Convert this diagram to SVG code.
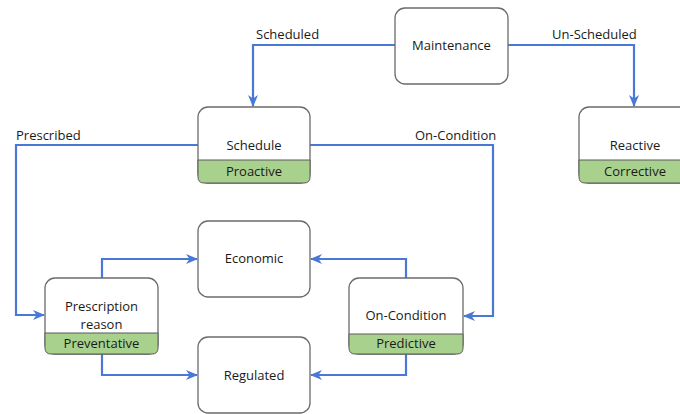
<svg xmlns="http://www.w3.org/2000/svg" width="680" height="414" viewBox="0 0 680 414">
  <defs>
    <style>
      .box { fill: #ffffff; stroke: #6b6b6b; stroke-width: 1.3; }
      .band { fill: #a9d18e; stroke: #5a5a5a; stroke-width: 1; }
      .lbl { font-family: "Open Sans", "Liberation Sans", sans-serif; font-size: 13px; fill: #1a1a1a; text-anchor: middle; }
      .edge { font-family: "Open Sans", "Liberation Sans", sans-serif; font-size: 13px; fill: #1a1a1a; }
      .conn { fill: none; stroke: #4a78d6; stroke-width: 2.2; marker-end: url(#arr); }
    </style>
    <marker id="arr" viewBox="0 0 12 10" refX="11" refY="5" markerWidth="12" markerHeight="10" markerUnits="userSpaceOnUse" orient="auto">
      <path d="M0,0 L12,5 L0,10 L3.5,5 z" fill="#4a78d6"/>
    </marker>
  </defs>

  <!-- connectors -->
  <g id="connectors">
    <path class="conn" d="M395,45 H253 V106"/>
    <path class="conn" d="M508,45 H634 V106"/>
    <path class="conn" d="M198,145 H16 V315 H44"/>
    <path class="conn" d="M310,145 H493 V316 H464"/>
    <path class="conn" d="M102,278 V259 H197"/>
    <path class="conn" d="M102,354 V375 H197"/>
    <path class="conn" d="M406,278 V259 H311"/>
    <path class="conn" d="M406,354 V375 H311"/>
    <text class="edge" x="256" y="39">Scheduled</text>
    <text class="edge" x="552" y="39">Un-Scheduled</text>
    <text class="edge" x="16" y="140">Prescribed</text>
    <text class="edge" x="415" y="140">On-Condition</text>
  </g>

  <!-- nodes -->
  <g id="maintenance">
    <rect class="box" x="395" y="8" width="113" height="76" rx="10"/>
    <text class="lbl" x="451.5" y="50">Maintenance</text>
  </g>

  <g id="schedule" transform="translate(198,107)">
    <rect class="box" x="0" y="0" width="112" height="76" rx="10"/>
    <path class="band" d="M0,53 H112 V70 Q112,76 106,76 H6 Q0,76 0,70 Z"/>
    <text class="lbl" x="56" y="43">Schedule</text>
    <text class="lbl" x="56" y="69">Proactive</text>
  </g>

  <g id="reactive" transform="translate(579,107)">
    <rect class="box" x="0" y="0" width="112" height="76" rx="10"/>
    <path class="band" d="M0,53 H112 V70 Q112,76 106,76 H6 Q0,76 0,70 Z"/>
    <text class="lbl" x="56" y="43">Reactive</text>
    <text class="lbl" x="56" y="69">Corrective</text>
  </g>

  <g id="economic">
    <rect class="box" x="198" y="221" width="112" height="76" rx="10"/>
    <text class="lbl" x="254" y="263">Economic</text>
  </g>

  <g id="regulated">
    <rect class="box" x="198" y="337" width="112" height="76" rx="10"/>
    <text class="lbl" x="254" y="380">Regulated</text>
  </g>

  <g id="prescription-reason" transform="translate(45,278)">
    <rect class="box" x="0" y="0" width="113" height="76" rx="10"/>
    <path class="band" d="M0,55 H113 V70 Q113,76 107,76 H6 Q0,76 0,70 Z"/>
    <text class="lbl" x="56.5" y="33">Prescription</text>
    <text class="lbl" x="56.5" y="51">reason</text>
    <text class="lbl" x="56.5" y="70">Preventative</text>
  </g>

  <g id="on-condition" transform="translate(349,278)">
    <rect class="box" x="0" y="0" width="114" height="76" rx="10"/>
    <path class="band" d="M0,56 H114 V70 Q114,76 108,76 H6 Q0,76 0,70 Z"/>
    <text class="lbl" x="57" y="42">On-Condition</text>
    <text class="lbl" x="57" y="70">Predictive</text>
  </g>
</svg>
